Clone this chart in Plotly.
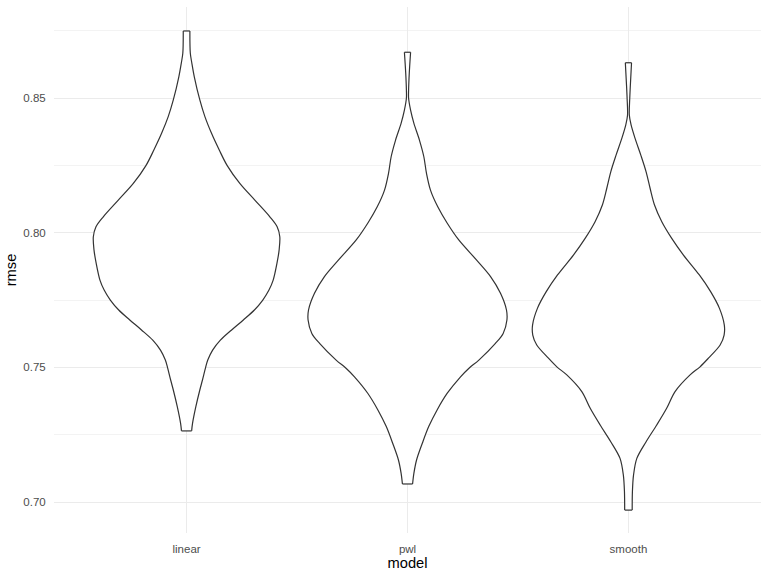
import plotly.graph_objects as go

# Categories
models = ["linear", "pwl", "smooth"]

# Violin outlines: rmse level and half-width (in category units)
linear_rmse = [0.8749, 0.8666, 0.8629, 0.8579, 0.8493, 0.8431, 0.8369, 0.8307, 0.8249, 0.8183,
               0.8121, 0.8059, 0.8022, 0.7985, 0.7936, 0.7886, 0.7824, 0.7787, 0.7750, 0.7713,
               0.7676, 0.7639, 0.7601, 0.7564, 0.7527, 0.7499, 0.7453, 0.7416, 0.7354, 0.7292,
               0.7264]
linear_halfw = [0.015, 0.017, 0.024, 0.035, 0.060, 0.083, 0.113, 0.148, 0.184, 0.241,
                0.309, 0.377, 0.410, 0.422, 0.419, 0.409, 0.392, 0.373, 0.345, 0.307,
                0.257, 0.204, 0.153, 0.118, 0.096, 0.086, 0.072, 0.060, 0.042, 0.027,
                0.023]

pwl_rmse = [0.8670, 0.8592, 0.8530, 0.8499, 0.8455, 0.8406, 0.8344, 0.8282, 0.8220, 0.8158,
            0.8096, 0.8035, 0.7973, 0.7899, 0.7837, 0.7775, 0.7713, 0.7676, 0.7626, 0.7589,
            0.7527, 0.7496, 0.7465, 0.7404, 0.7342, 0.7280, 0.7218, 0.7156, 0.7107, 0.7067]
pwl_halfw = [0.014, 0.008, 0.005, 0.005, 0.014, 0.029, 0.054, 0.074, 0.086, 0.104,
             0.137, 0.180, 0.232, 0.312, 0.376, 0.421, 0.448, 0.450, 0.433, 0.398,
             0.323, 0.277, 0.240, 0.180, 0.134, 0.096, 0.067, 0.041, 0.029, 0.023]

smooth_rmse = [0.8631, 0.8536, 0.8499, 0.8437, 0.8400, 0.8350, 0.8288, 0.8226, 0.8165, 0.8103,
               0.8041, 0.7979, 0.7917, 0.7843, 0.7781, 0.7719, 0.7657, 0.7620, 0.7583, 0.7534,
               0.7502, 0.7472, 0.7410, 0.7348, 0.7286, 0.7224, 0.7162, 0.7100, 0.7038, 0.6970]
smooth_halfw = [0.014, 0.008, 0.006, 0.004, 0.012, 0.030, 0.056, 0.080, 0.098, 0.118,
                0.151, 0.196, 0.249, 0.321, 0.372, 0.412, 0.434, 0.433, 0.415, 0.362,
                0.324, 0.279, 0.211, 0.173, 0.128, 0.080, 0.038, 0.023, 0.018, 0.017]

y_ticks = [0.70, 0.75, 0.80, 0.85]
y_ticktext = ["0.70", "0.75", "0.80", "0.85"]

series = [(linear_rmse, linear_halfw), (pwl_rmse, pwl_halfw), (smooth_rmse, smooth_halfw)]

LINE = "#333333"
fig = go.Figure()
for i, (ys, ws) in enumerate(series):
    c = i + 1
    xr = [c + w for w in ws]
    xl = [c - w for w in ws]
    ys = list(ys)
    # white fill (hides grid lines inside the violin)
    fig.add_trace(go.Scatter(
        x=xr + xl[::-1] + [xr[0]], y=ys + ys[::-1] + [ys[0]],
        mode="lines", fill="toself", fillcolor="white",
        line=dict(width=0, color="white"), hoverinfo="skip", showlegend=False))
    # smooth sides
    fig.add_trace(go.Scatter(
        x=xr + [None] + xl, y=ys + [None] + ys, mode="lines",
        line=dict(color=LINE, width=1.2, shape="spline", smoothing=0.9),
        connectgaps=False, hoverinfo="skip", showlegend=False, name=models[i]))
    # flat caps at the data range ends
    fig.add_trace(go.Scatter(
        x=[xl[0], xr[0], None, xl[-1], xr[-1]], y=[ys[0], ys[0], None, ys[-1], ys[-1]],
        mode="lines", line=dict(color=LINE, width=1.2),
        connectgaps=False, hoverinfo="skip", showlegend=False))

font = "Liberation Sans, Arial, Helvetica, sans-serif"
fig.update_layout(
    width=768, height=576,
    margin=dict(l=54, r=7, t=7, b=43),
    paper_bgcolor="white", plot_bgcolor="white",
    font=dict(family=font),
    showlegend=False,
)
fig.update_xaxes(
    range=[0.4, 3.6], tickvals=[1, 2, 3], ticktext=models,
    showgrid=True, gridcolor="#EBEBEB", gridwidth=1.1, zeroline=False,
    showline=False, ticks="outside", ticklen=5, tickcolor="rgba(0,0,0,0)",
    tickfont=dict(size=11.5, color="#4D4D4D", family=font),
    title=dict(text="model", font=dict(size=14.7, color="black", family=font), standoff=3),
)
fig.update_yaxes(
    range=[0.6885, 0.8838], tickvals=y_ticks, ticktext=y_ticktext,
    showgrid=True, gridcolor="#EBEBEB", gridwidth=1.1, zeroline=False,
    showline=False, ticks="outside", ticklen=5, tickcolor="rgba(0,0,0,0)",
    tickfont=dict(size=11.5, color="#4D4D4D", family=font),
    minor=dict(tickvals=[0.725, 0.775, 0.825, 0.875], showgrid=True,
               gridcolor="#F3F3F3", gridwidth=0.6, ticks=""),
    title=dict(text="rmse", font=dict(size=14.7, color="black", family=font), standoff=3),
)

fig.write_html("out.html")
